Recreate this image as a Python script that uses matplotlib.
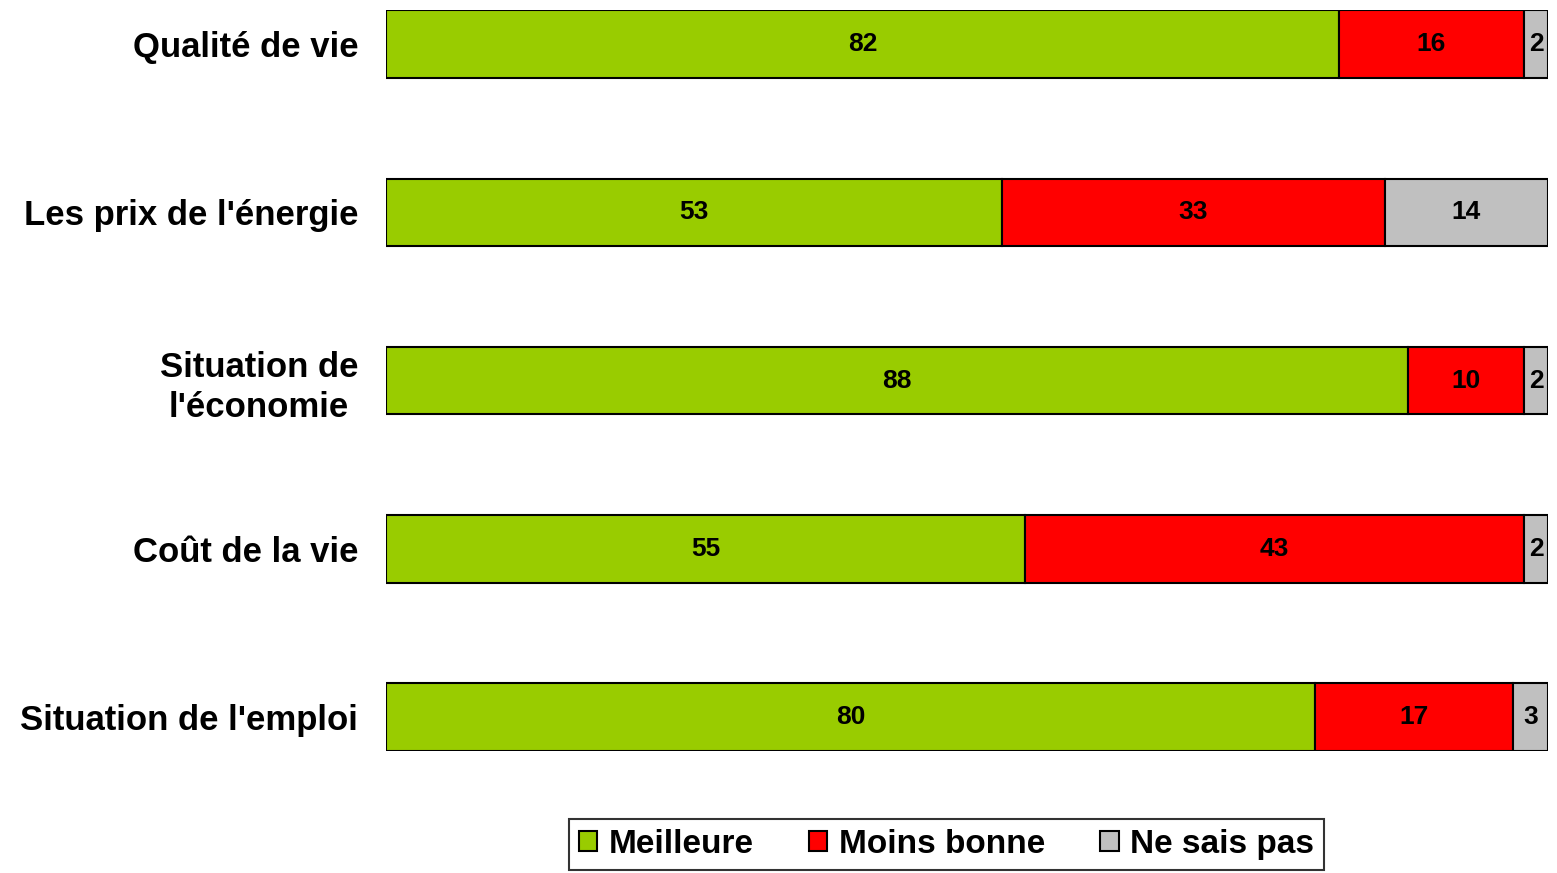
import numpy as np
import matplotlib
matplotlib.use('Agg')
import matplotlib.pyplot as plt

plt.rcParams['font.family'] = ['Liberation Sans', 'DejaVu Sans']

categories = ['Qualité de vie', "Les prix de l'énergie", "Situation de\nl'économie",
              'Coût de la vie', "Situation de l'emploi"]
meilleure = [82, 53, 88, 55, 80]
moins_bonne = [16, 33, 10, 43, 17]
ne_sais_pas = [2, 14, 2, 2, 3]

series = [('Meilleure', meilleure, '#99CC00'),
          ('Moins bonne', moins_bonne, '#FF0000'),
          ('Ne sais pas', ne_sais_pas, '#C0C0C0')]

fig = plt.figure(figsize=(15.57, 8.73), dpi=100)
ax = fig.add_axes([0.248, 0.140, 0.746, 0.848])

y = np.arange(len(categories))
left = np.zeros(len(categories))
for name, vals, col in series:
    vals = np.array(vals, dtype=float)
    ax.barh(y, vals, left=left, height=0.4, color=col, edgecolor='black',
            linewidth=1.5, label=name)
    for yi, l, v in zip(y, left, vals):
        ax.text(l + v / 2, yi, f'{int(v)}', ha='center', va='center',
                fontsize=19, fontweight='bold')
    left += vals

ax.set_xlim(0, 100)
ax.set_ylim(4.2, -0.2)
ax.set_yticks(y)
ax.set_yticklabels(categories, fontsize=25, fontweight='bold',
                   multialignment='center', linespacing=1.25)
ax.tick_params(axis='y', length=0, pad=20)
ax.set_xticks([])
for s in ax.spines.values():
    s.set_visible(False)

leg = fig.legend(loc='lower center', bbox_to_anchor=(0.608, 0.0), ncol=3,
                 prop={'size': 24, 'weight': 'bold'}, frameon=True, fancybox=False,
                 handlelength=0.55, handleheight=0.55, handletextpad=0.35,
                 columnspacing=1.65, borderpad=0.3, borderaxespad=0.1)
leg.get_frame().set_edgecolor('black')
leg.get_frame().set_linewidth(1.5)

fig.savefig('out.png', dpi=100)
